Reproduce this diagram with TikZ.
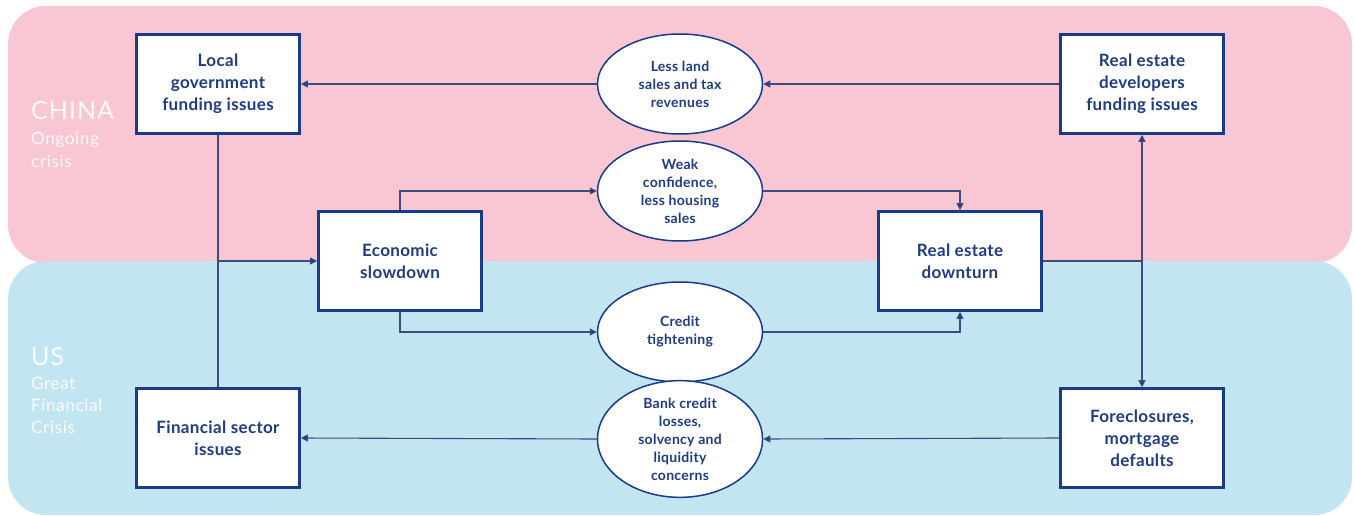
\documentclass[tikz,border=0pt]{standalone}
\usepackage{fontspec}
\setmainfont{Lato}
\usetikzlibrary{arrows.meta,shapes.geometric}
\definecolor{pinkbg}{HTML}{F9C6D3}
\definecolor{bluebg}{HTML}{C2E5F1}
\definecolor{navy}{HTML}{183C8A}
\definecolor{txtc}{HTML}{1F3B84}
\definecolor{linec}{HTML}{3E4C7C}
\newfontfamily\boxfont[LetterSpace=2]{Lato}
\newfontfamily\sidefont[LetterSpace=4]{Lato}
\begin{document}
\begin{tikzpicture}[x=1pt,y=-1pt,
  box/.style={draw=navy, line width=2.6pt, fill=white, minimum width=163pt, minimum height=99pt, align=center, text=txtc, font=\boxfont\fontsize{17}{22}\selectfont\bfseries, inner sep=0pt},
  oval/.style={ellipse, draw=navy, line width=1.5pt, fill=white, minimum width=165pt, minimum height=100pt, inner sep=0pt, align=center, text=txtc, font=\boxfont\fontsize{14}{18}\selectfont\bfseries},
  conn/.style={draw=linec, line width=1.1pt},
  arr/.style={conn, -{Triangle[length=7pt,width=7pt,fill=navy]}},
  side/.style={text=white, text opacity=0.9, anchor=base west, inner sep=0pt}]
\path[use as bounding box] (0,0) rectangle (1354,516);
\fill[pinkbg, rounded corners=38pt] (8,6) rectangle (1352,263);
\fill[bluebg, rounded corners=38pt] (8,261) rectangle (1352,515);

\node[side, font=\sidefont\fontsize{25}{25}\selectfont] (china) at (31,120) {CHINA};
\node[side, font=\sidefont\fontsize{17}{22}\selectfont] (ong) at (31,145) {Ongoing};
\node[side, font=\sidefont\fontsize{17}{22}\selectfont] (cri) at (31,167) {crisis};
\node[side, font=\sidefont\fontsize{25}{25}\selectfont] (us) at (31,365) {US};
\node[side, font=\sidefont\fontsize{17}{22}\selectfont] (gr) at (31,389) {Great};
\node[side, font=\sidefont\fontsize{17}{22}\selectfont] (fi) at (31,411) {Financial};
\node[side, font=\sidefont\fontsize{17}{22}\selectfont] (cr) at (31,433) {Crisis};

\node[box] (lg) at (218,84) {Local\\government\\funding issues};
\node[box] (fs) at (218,438) {Financial sector\\issues};
\node[box] (es) at (400,261) {Economic\\slowdown};
\node[box] (rd) at (960,261) {Real estate\\downturn};
\node[box] (dev) at (1142,84) {Real estate\\developers\\funding issues};
\node[box] (fc) at (1142,438) {Foreclosures,\\mortgage\\defaults};

\node[oval] (ll) at (680,84) {Less land\\sales and tax\\revenues};
\node[oval] (wc) at (680,191) {Weak\\confidence,\\less housing\\sales};
\node[oval] (ct) at (680,332) {Credit\\tightening};
\node[oval] (bc) at (680,439) {Bank credit\\losses,\\solvency and\\liquidity\\concerns};

\draw[arr] (dev.west) -- (ll.east);
\draw[arr] (ll.west) -- (lg.east);
\draw[conn] (lg.south) -- (fs.north);
\coordinate (j1) at (lg.south |- es.west);
\draw[arr] (j1) -- (es.west);
\draw[arr] (es.north) |- (wc.west);
\draw[arr] (wc.east) -| (rd.north);
\draw[arr] (es.south) |- (ct.west);
\draw[arr] (ct.east) -| (rd.south);
\coordinate (j2) at (dev.south |- rd.east);
\draw[conn] (rd.east) -- (j2);
\draw[arr] (j2) -- (dev.south);
\draw[arr] (j2) -- (fc.north);
\draw[arr] (fc.west) -- (bc.east);
\draw[arr] (bc.west) -- (fs.east);
\end{tikzpicture}
\end{document}
